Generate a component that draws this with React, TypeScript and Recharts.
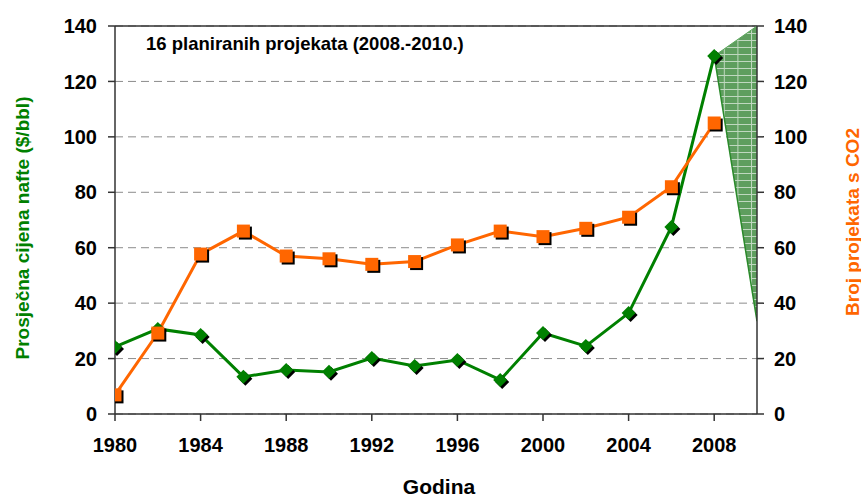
import React from 'react';
import {
  ComposedChart,
  Line,
  Area,
  XAxis,
  YAxis,
  CartesianGrid,
  ReferenceLine,
  Customized,
} from 'recharts';

const years = [1980, 1982, 1984, 1986, 1988, 1990, 1992, 1994, 1996, 1998, 2000, 2002, 2004, 2006, 2008, 2010];
const oilPrice = [24.2, 30.7, 28.5, 13.4, 15.9, 15.2, 20.2, 17.3, 19.5, 12.3, 29.2, 24.5, 36.4, 67.5, 129.2, null];
const projectCount = [6.9, 29.2, 57.7, 66, 57, 56, 54, 55, 61, 66, 64, 67, 71, 82, 105, null];
const forecastLow = [null, null, null, null, null, null, null, null, null, null, null, null, null, null, 129.2, 33.5];
const forecastHigh = [null, null, null, null, null, null, null, null, null, null, null, null, null, null, 129.2, 140];

const xTicks = [1980, 1984, 1988, 1992, 1996, 2000, 2004, 2008];
const yTicks = [0, 20, 40, 60, 80, 100, 120, 140];

const data = years.map((year, i) => ({
  year,
  oil: oilPrice[i],
  projects: projectCount[i],
  fLow: forecastLow[i],
  fHigh: forecastHigh[i],
  band: forecastLow[i] != null && forecastHigh[i] != null ? [forecastLow[i], forecastHigh[i]] : null,
}));

const FONT = '"Liberation Sans", Arial, sans-serif';
const GREEN = '#008000';
const ORANGE = '#FF6600';

const Diamond = (props: any) => {
  const { cx, cy, value } = props;
  if (cx == null || cy == null || value == null) return <g />;
  const r = 7;
  const pts = (dx: number, dy: number) =>
    `${cx + dx},${cy - r + dy} ${cx + r + dx},${cy + dy} ${cx + dx},${cy + r + dy} ${cx - r + dx},${cy + dy}`;
  return (
    <g>
      <polygon points={pts(2, 2)} fill="#000" />
      <polygon points={pts(0, 0)} fill={GREEN} />
    </g>
  );
};

const Square = (props: any) => {
  const { cx, cy, value } = props;
  if (cx == null || cy == null || value == null) return <g />;
  const h = 6.5;
  return (
    <g>
      <rect x={cx - h + 2} y={cy - h + 2} width={h * 2} height={h * 2} fill="#000" />
      <rect x={cx - h} y={cy - h} width={h * 2} height={h * 2} fill={ORANGE} />
    </g>
  );
};

const Labels = () => (
  <g fontFamily={FONT} fontWeight="bold">
    <text x={146} y={50} fontSize={18.5} fill="#000">
      16 planiranih projekata (2008.-2010.)
    </text>
    <text x={439} y={494} fontSize={21} fill="#000" textAnchor="middle">
      Godina
    </text>
    <text
      x={22}
      y={228}
      fontSize={19}
      fill={GREEN}
      textAnchor="middle"
      dominantBaseline="central"
      transform="rotate(-90, 22, 228)"
    >
      Prosječna cijena nafte ($/bbl)
    </text>
    <text
      x={852}
      y={222}
      fontSize={19}
      fill={ORANGE}
      textAnchor="middle"
      dominantBaseline="central"
      transform="rotate(-90, 852, 222)"
    >
      Broj projekata s CO2
    </text>
  </g>
);

const tickStyle = { fontFamily: FONT, fontWeight: 'bold', fontSize: 20, fill: '#000' };

export default function App() {
  return (
    <div style={{ position: 'absolute', left: 0, top: 0, width: 861, height: 501, background: '#fff' }}>
      <ComposedChart width={861} height={501} data={data} margin={{ top: 26, right: 0, bottom: 0, left: 0 }}>
        <defs>
          <pattern id="hatch" x="3" y="5" width="13.6" height="7" patternUnits="userSpaceOnUse">
            <rect width="13.6" height="7" fill="#5e9e5e" />
            <path d="M0 0.5 H13.6 M0.5 0 V7" stroke="#ffffff" strokeOpacity={0.6} strokeWidth={1} />
          </pattern>
        </defs>
        <CartesianGrid vertical={false} yAxisId="left" stroke="#8c8c8c" strokeDasharray="8 5" />
        <XAxis
          dataKey="year"
          type="number"
          domain={[1980, 2010]}
          ticks={xTicks}
          height={87}
          tickSize={7}
          tickMargin={17}
          stroke="#333"
          tickLine={{ stroke: '#333', strokeWidth: 1.5 }}
          axisLine={{ stroke: '#333', strokeWidth: 1.5 }}
          tick={tickStyle}
          allowDataOverflow
        />
        <YAxis
          yAxisId="left"
          width={115}
          domain={[0, 140]}
          ticks={yTicks}
          tickSize={7}
          tickMargin={11}
          stroke="#333"
          tickLine={{ stroke: '#333', strokeWidth: 1.5 }}
          axisLine={{ stroke: '#333', strokeWidth: 1.5 }}
          tick={tickStyle}
          allowDataOverflow
        />
        <YAxis
          yAxisId="right"
          orientation="right"
          width={104}
          domain={[0, 140]}
          ticks={yTicks}
          tickSize={7}
          tickMargin={10}
          stroke="#333"
          tickLine={{ stroke: '#333', strokeWidth: 1.5 }}
          axisLine={{ stroke: '#333', strokeWidth: 1.5 }}
          tick={tickStyle}
          allowDataOverflow
        />
        <ReferenceLine yAxisId="left" y={140} stroke="#333" strokeWidth={1.5} />
        <Area
          yAxisId="left"
          dataKey="band"
          stroke="none"
          fill="url(#hatch)"
          fillOpacity={1}
          isAnimationActive={false}
          activeDot={false}
          dot={false}
        />
        <Line
          yAxisId="left"
          dataKey="fHigh"
          stroke="#5aa55a"
          strokeWidth={1}
          dot={false}
          activeDot={false}
          isAnimationActive={false}
        />
        <Line
          yAxisId="left"
          dataKey="fLow"
          stroke="#2a8a2a"
          strokeWidth={1.5}
          dot={false}
          activeDot={false}
          isAnimationActive={false}
        />
        <Line
          yAxisId="left"
          dataKey="oil"
          stroke={GREEN}
          strokeWidth={3}
          dot={<Diamond />}
          activeDot={false}
          isAnimationActive={false}
        />
        <Line
          yAxisId="right"
          dataKey="projects"
          stroke={ORANGE}
          strokeWidth={3}
          dot={<Square />}
          activeDot={false}
          isAnimationActive={false}
        />
        <Customized component={Labels} />
      </ComposedChart>
    </div>
  );
}
